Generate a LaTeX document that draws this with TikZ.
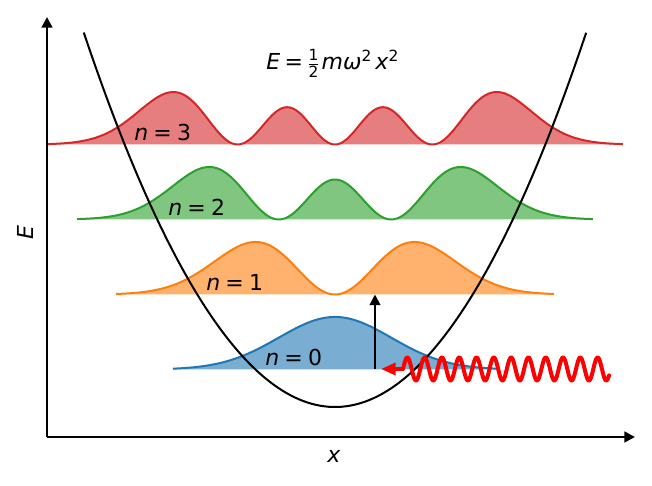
\documentclass[tikz,border=0pt]{standalone}
\usepackage{fontspec}
\usepackage{amsmath}
\setmainfont{DejaVu Sans}
\usetikzlibrary{arrows.meta}
\definecolor{cA}{HTML}{1F77B4}
\definecolor{cB}{HTML}{FF7F0E}
\definecolor{cC}{HTML}{2CA02C}
\definecolor{cD}{HTML}{D62728}
\newcommand{\eqsp}{\hspace{0.24em}=\hspace{0.24em}}
\begin{document}
\begin{tikzpicture}[x=0.75pt,y=0.75pt,
  declare function={
    gz(\u)=exp(-(\u)*(\u)/2);
    dz(\u)=gz(\u)*gz(\u);
    da(\u)=2.71828*((\u)*gz(\u))*((\u)*gz(\u));
    db(\u)=((2*(\u)*(\u)-1)*gz(\u))*((2*(\u)*(\u)-1)*gz(\u))/1.3134;
    dc(\u)=((\u)*(2*(\u)*(\u)-3)*gz(\u))*((\u)*(2*(\u)*(\u)-3)*gz(\u))/1.838;
  },
  axisline/.style={line width=1.9pt,-{Triangle[length=8pt,width=8pt]}},
  curve/.style={line width=1.5pt,line join=round},
  lbl/.style={font=\fontsize{16.5pt}{19pt}\selectfont,inner sep=0pt},
]
\useasboundingbox (0,0) rectangle (652,485);

% energy level densities
\foreach \n/\col/\dom/\f in {0/cA/2.038/dz,1/cB/2.755/da,2/cC/3.245/db,3/cD/3.623/dc}{
  \pgfmathsetmacro{\base}{115.5+75*\n}
  \fill[\col,fill opacity=0.6] ({335-79.5*\dom},\base) -- plot[domain=-\dom:\dom,samples=241,smooth] ({335+79.5*\x},{\base+52.5*\f(\x)}) -- ({335+79.5*\dom},\base) -- cycle;
  \draw[\col,curve] plot[domain=-\dom:\dom,samples=241,smooth] ({335+79.5*\x},{\base+52.5*\f(\x)});
}

% potential
\draw[black,curve] plot[domain=-3.16:3.16,samples=120,smooth] ({335+79.5*\x},{78+37.5*\x*\x});

% axes
\coordinate (O) at (47,48);
\coordinate (ytip) at (47,468);
\coordinate (xtip) at (635,48);
\draw[axisline] (O) -- (ytip);
\draw[axisline] (O) -- (xtip);

% excitation arrow
\coordinate (lowlev) at (375,115.5);
\coordinate (uplev) at (375,190.5);
\draw[line width=1.5pt,-{Triangle[length=8pt,width=8pt]}] (lowlev) -- (uplev);

% photon
\coordinate (wavestart) at (403,116);
\coordinate (photontip) at (381,116);
\draw[red,line width=3pt,line join=round,line cap=round] plot[domain=0:206,samples=400] ({403+\x},{116+11.5*sin(20.809*\x)});
\draw[red,line width=2.6pt,-{Triangle[length=11pt,width=9pt]}] (wavestart) -- (photontip);

% labels
\node[lbl,anchor=base west] (n0) at (265,119) {\textit{n}\eqsp 0};
\node[lbl,anchor=base west] (n1) at (206,194) {\textit{n}\eqsp 1};
\node[lbl,anchor=base west] (n2) at (168,269) {\textit{n}\eqsp 2};
\node[lbl,anchor=base west] (n3) at (134,344) {\textit{n}\eqsp 3};
\node[lbl,anchor=base west] (formula) at (266,415) {\textit{E}\hspace{0.2em}=\hspace{0.18em}$\frac{\text{1}}{\text{2}}$\hspace{0.08em}\textit{mω}\textsuperscript{2}\hspace{0.15em}\textit{x}\textsuperscript{2}};
\node[lbl] (xlab) at (334,29) {\textit{x}};
\node[lbl,rotate=90] (Elab) at (25,252) {\textit{E}};
\end{tikzpicture}
\end{document}
